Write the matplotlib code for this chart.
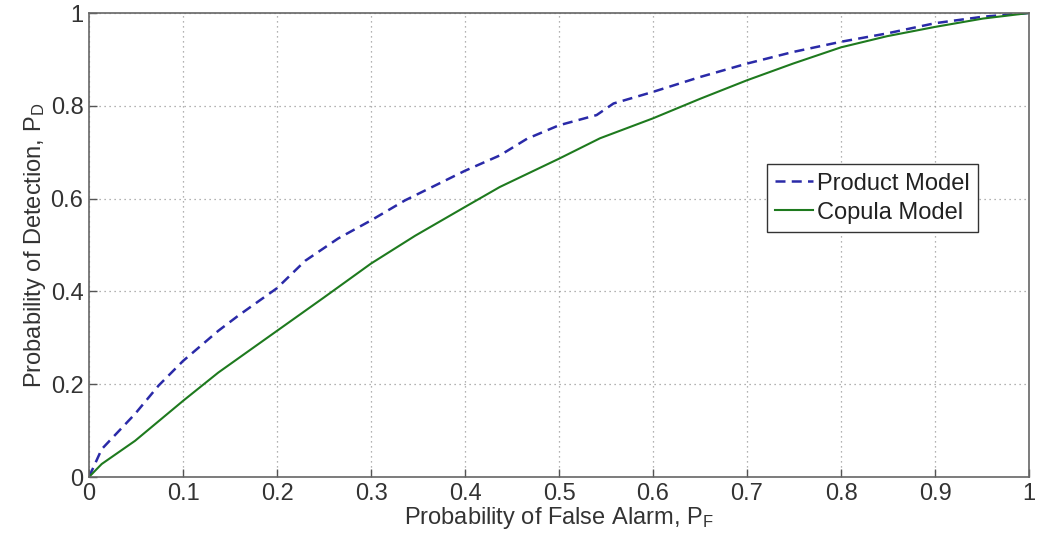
import matplotlib
matplotlib.use("Agg")
import matplotlib.pyplot as plt

plt.rcParams['font.family'] = ['Liberation Sans', 'DejaVu Sans']
plt.rcParams['mathtext.default'] = 'regular'

pf_product = [0.0, 0.0135, 0.049, 0.074, 0.1, 0.1375, 0.159, 0.2, 0.23, 0.265, 0.3, 0.336,
              0.4, 0.437, 0.466, 0.5, 0.54, 0.558, 0.6, 0.65, 0.7, 0.749, 0.8, 0.849, 0.9, 0.951, 1.0]
pd_product = [0.0, 0.06, 0.136, 0.197, 0.25, 0.315, 0.348, 0.407, 0.466, 0.514, 0.553, 0.596,
              0.66, 0.693, 0.729, 0.758, 0.78, 0.805, 0.83, 0.862, 0.891, 0.916, 0.938, 0.956, 0.978, 0.992, 1.0]

pf_copula = [0.0, 0.0135, 0.049, 0.1, 0.1375, 0.2, 0.25, 0.3, 0.347, 0.4, 0.437, 0.5,
             0.5436, 0.6, 0.65, 0.7, 0.749, 0.8, 0.849, 0.9, 0.951, 1.0]
pd_copula = [0.0, 0.028, 0.078, 0.164, 0.225, 0.315, 0.387, 0.46, 0.52, 0.582, 0.625, 0.686,
             0.73, 0.773, 0.815, 0.855, 0.891, 0.926, 0.95, 0.97, 0.988, 1.0]

ticks = [0, 0.1, 0.2, 0.3, 0.4, 0.5, 0.6, 0.7, 0.8, 0.9, 1]
tick_labels = ['0', '0.1', '0.2', '0.3', '0.4', '0.5', '0.6', '0.7', '0.8', '0.9', '1']
yticks = [0, 0.2, 0.4, 0.6, 0.8, 1]
ytick_labels = ['0', '0.2', '0.4', '0.6', '0.8', '1']

fig = plt.figure(figsize=(10.37, 5.41), dpi=100)
ax = fig.add_axes([89/1037, 64/541, 940/1037, 464/541])

ax.plot(pf_product, pd_product, linestyle=(0, (4, 2.5)), color='#2a2aa8', linewidth=1.8, label='Product Model')
ax.plot(pf_copula, pd_copula, linestyle='-', color='#1e7a1e', linewidth=1.5, label='Copula Model')

ax.set_xlim(0, 1)
ax.set_ylim(0, 1)
ax.set_xticks(ticks)
ax.set_xticklabels(tick_labels)
ax.set_yticks(yticks)
ax.set_yticklabels(ytick_labels)
ax.grid(True, linestyle=(0, (1, 3)), color='#999999', linewidth=0.9)
ax.tick_params(direction='in', length=6, width=1, colors='#555555', labelcolor='#333333', labelsize=17, pad=4)
for s in ax.spines.values():
    s.set_color('#666666')
    s.set_linewidth(1.2)

ax.set_xlabel('Probability of False Alarm, P$_{F}$', fontsize=17, color='#333333', labelpad=0)
ax.set_ylabel('Probability of Detection, P$_{D}$', fontsize=17, color='#333333', labelpad=2)

leg = ax.legend(loc='upper left', bbox_to_anchor=((767-89)/940, (477-165)/463), fontsize=17,
                handlelength=1.6, handletextpad=0.15, borderpad=0.35, labelspacing=0.3,
                fancybox=False, framealpha=1, edgecolor='#333333', borderaxespad=0)
leg.get_frame().set_linewidth(1.0)
for t in leg.get_texts():
    t.set_color('#222222')

fig.savefig('out.png', dpi=100)
